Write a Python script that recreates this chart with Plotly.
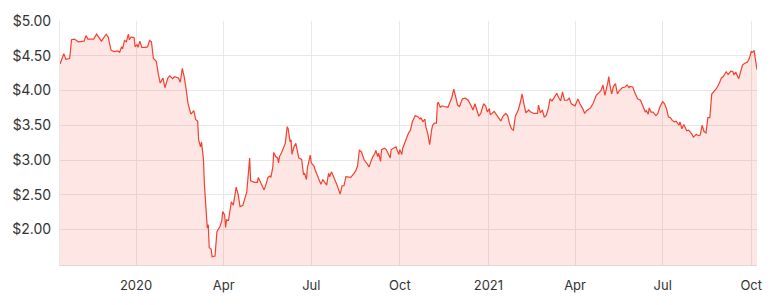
import plotly.graph_objects as go

dates = [
    "2019-10-14", "2019-10-18", "2019-10-20", "2019-10-24", "2019-10-26", "2019-10-29",
    "2019-11-02", "2019-11-08", "2019-11-10", "2019-11-12", "2019-11-18", "2019-11-21",
    "2019-11-26", "2019-12-01", "2019-12-03", "2019-12-06", "2019-12-09", "2019-12-13",
    "2019-12-15", "2019-12-17", "2019-12-18", "2019-12-20", "2019-12-22", "2019-12-24",
    "2019-12-25", "2019-12-27", "2019-12-30", "2019-12-31",
    "2020-01-02", "2020-01-03", "2020-01-05", "2020-01-07", "2020-01-11", "2020-01-13",
    "2020-01-15", "2020-01-17", "2020-01-19", "2020-01-22", "2020-01-24", "2020-01-26",
    "2020-01-29", "2020-01-31", "2020-02-03", "2020-02-05", "2020-02-08", "2020-02-10",
    "2020-02-14", "2020-02-16", "2020-02-18", "2020-02-20", "2020-02-22", "2020-02-24",
    "2020-02-27", "2020-03-01", "2020-03-03", "2020-03-05", "2020-03-06", "2020-03-08",
    "2020-03-09", "2020-03-11", "2020-03-12", "2020-03-14", "2020-03-15", "2020-03-16",
    "2020-03-17", "2020-03-19", "2020-03-20", "2020-03-23", "2020-03-25", "2020-03-28",
    "2020-03-30", "2020-03-31", "2020-04-02", "2020-04-03", "2020-04-04", "2020-04-06",
    "2020-04-09", "2020-04-11", "2020-04-12", "2020-04-14", "2020-04-16", "2020-04-18",
    "2020-04-21", "2020-04-23", "2020-04-25", "2020-04-28", "2020-04-29", "2020-05-03",
    "2020-05-06", "2020-05-07", "2020-05-10", "2020-05-13", "2020-05-15", "2020-05-17",
    "2020-05-19", "2020-05-20", "2020-05-22", "2020-05-23", "2020-05-25", "2020-05-27",
    "2020-05-28", "2020-05-29", "2020-05-31", "2020-06-03", "2020-06-04", "2020-06-06",
    "2020-06-07", "2020-06-09", "2020-06-10", "2020-06-11", "2020-06-13", "2020-06-15",
    "2020-06-17", "2020-06-18", "2020-06-21", "2020-06-23", "2020-06-24", "2020-06-26",
    "2020-06-27", "2020-06-30", "2020-07-01", "2020-07-04", "2020-07-05", "2020-07-07",
    "2020-07-09", "2020-07-11", "2020-07-13", "2020-07-15", "2020-07-17", "2020-07-19",
    "2020-07-20", "2020-07-22", "2020-07-24", "2020-07-26", "2020-07-28", "2020-07-31",
    "2020-08-02", "2020-08-04", "2020-08-06", "2020-08-09", "2020-08-11", "2020-08-14",
    "2020-08-16", "2020-08-18", "2020-08-20", "2020-08-22", "2020-08-24", "2020-08-25",
    "2020-08-28", "2020-08-30", "2020-09-01", "2020-09-03", "2020-09-05", "2020-09-06",
    "2020-09-08", "2020-09-09", "2020-09-11", "2020-09-12", "2020-09-15", "2020-09-17",
    "2020-09-18", "2020-09-21", "2020-09-22", "2020-09-25", "2020-09-27", "2020-09-28",
    "2020-09-30", "2020-10-01", "2020-10-03", "2020-10-04", "2020-10-06", "2020-10-08",
    "2020-10-10", "2020-10-12", "2020-10-14", "2020-10-16", "2020-10-17", "2020-10-20",
    "2020-10-22", "2020-10-23", "2020-10-25", "2020-10-27", "2020-10-28", "2020-10-30",
    "2020-11-01", "2020-11-03", "2020-11-04", "2020-11-06", "2020-11-08", "2020-11-09",
    "2020-11-10", "2020-11-12", "2020-11-14", "2020-11-16", "2020-11-20", "2020-11-24",
    "2020-11-26", "2020-11-28", "2020-11-30", "2020-12-02", "2020-12-05", "2020-12-08",
    "2020-12-11", "2020-12-14", "2020-12-16", "2020-12-18", "2020-12-21", "2020-12-22",
    "2020-12-24", "2020-12-27", "2020-12-29", "2020-12-31",
    "2021-01-02", "2021-01-03", "2021-01-07", "2021-01-10", "2021-01-14", "2021-01-16",
    "2021-01-19", "2021-01-21", "2021-01-23", "2021-01-25", "2021-01-27", "2021-01-29",
    "2021-02-01", "2021-02-03", "2021-02-05", "2021-02-07", "2021-02-09", "2021-02-12",
    "2021-02-14", "2021-02-17", "2021-02-21", "2021-02-22", "2021-02-24", "2021-02-26",
    "2021-02-28", "2021-03-02", "2021-03-04", "2021-03-06", "2021-03-08", "2021-03-10",
    "2021-03-13", "2021-03-15", "2021-03-17", "2021-03-19", "2021-03-21", "2021-03-24",
    "2021-03-26", "2021-03-28", "2021-04-01", "2021-04-04", "2021-04-06", "2021-04-09",
    "2021-04-11", "2021-04-13", "2021-04-17", "2021-04-20", "2021-04-23", "2021-04-26",
    "2021-04-28", "2021-04-30", "2021-05-02", "2021-05-05", "2021-05-06", "2021-05-07",
    "2021-05-09", "2021-05-11", "2021-05-13", "2021-05-15", "2021-05-17", "2021-05-20",
    "2021-05-23", "2021-05-25", "2021-05-27", "2021-05-28", "2021-05-31", "2021-06-02",
    "2021-06-05", "2021-06-08", "2021-06-10", "2021-06-13", "2021-06-14", "2021-06-16",
    "2021-06-17", "2021-06-19", "2021-06-21", "2021-06-24", "2021-06-26", "2021-06-28",
    "2021-07-01", "2021-07-03", "2021-07-05", "2021-07-07", "2021-07-09", "2021-07-11",
    "2021-07-13", "2021-07-15", "2021-07-18", "2021-07-19", "2021-07-21", "2021-07-23",
    "2021-07-26", "2021-07-28", "2021-07-31", "2021-08-02", "2021-08-05", "2021-08-07",
    "2021-08-09", "2021-08-11", "2021-08-13", "2021-08-15", "2021-08-17", "2021-08-19",
    "2021-08-21", "2021-08-24", "2021-08-26", "2021-08-29", "2021-08-31", "2021-09-02",
    "2021-09-05", "2021-09-07", "2021-09-08", "2021-09-10", "2021-09-12", "2021-09-13",
    "2021-09-15", "2021-09-18", "2021-09-20", "2021-09-22", "2021-09-24", "2021-09-27",
    "2021-09-29", "2021-10-01", "2021-10-02", "2021-10-04", "2021-10-07",
]

prices = [
    4.38, 4.53, 4.45, 4.46, 4.73, 4.74,
    4.70, 4.71, 4.79, 4.74, 4.74, 4.81,
    4.71, 4.81, 4.77, 4.58, 4.56, 4.57,
    4.55, 4.63, 4.60, 4.72, 4.70, 4.81,
    4.73, 4.77, 4.76, 4.63,
    4.66, 4.62, 4.71, 4.62, 4.62, 4.63,
    4.72, 4.70, 4.46, 4.42, 4.25, 4.11,
    4.18, 4.04, 4.18, 4.21, 4.17, 4.20,
    4.18, 4.12, 4.32, 4.20, 4.02, 3.81,
    3.66, 3.71, 3.58, 3.56, 3.29, 3.19,
    3.26, 3.01, 2.65, 2.30, 2.02, 2.07,
    1.74, 1.72, 1.61, 1.62, 1.97, 2.04,
    2.12, 2.26, 2.21, 2.03, 2.14, 2.13,
    2.40, 2.35, 2.44, 2.61, 2.51, 2.33,
    2.35, 2.44, 2.54, 3.03, 2.70, 2.68,
    2.68, 2.75, 2.65, 2.57, 2.65, 2.75,
    2.77, 2.75, 2.89, 3.11, 3.05, 3.03,
    2.96, 3.05, 3.10, 3.22, 3.24, 3.48,
    3.45, 3.26, 3.29, 3.08, 3.19, 3.24,
    3.08, 3.03, 3.01, 2.79, 2.81, 2.72,
    2.89, 3.07, 2.96, 2.91, 2.86, 2.78,
    2.70, 2.65, 2.72, 2.67, 2.64, 2.81,
    2.76, 2.83, 2.75, 2.70, 2.63, 2.51,
    2.63, 2.63, 2.76, 2.76, 2.75, 2.80,
    2.84, 2.91, 3.14, 3.12, 3.02, 3.00,
    2.95, 2.90, 2.98, 3.05, 3.09, 3.14,
    3.05, 3.10, 2.98, 3.15, 3.17, 3.15,
    3.12, 3.03, 3.15, 3.17, 3.19, 3.15,
    3.08, 3.15, 3.08, 3.17, 3.24, 3.33,
    3.39, 3.43, 3.55, 3.61, 3.64, 3.62,
    3.59, 3.61, 3.55, 3.59, 3.48, 3.38,
    3.22, 3.43, 3.50, 3.53, 3.53, 3.81,
    3.83, 3.76, 3.78, 3.77, 3.76, 3.90,
    4.02, 3.91, 3.79, 3.77, 3.88, 3.89,
    3.86, 3.78, 3.72, 3.81, 3.69, 3.63,
    3.67, 3.81, 3.78, 3.69,
    3.74, 3.65, 3.70, 3.64, 3.56, 3.63,
    3.67, 3.64, 3.52, 3.45, 3.43, 3.63,
    3.72, 3.82, 3.95, 3.80, 3.68, 3.72,
    3.69, 3.67, 3.67, 3.79, 3.68, 3.72,
    3.62, 3.64, 3.73, 3.88, 3.85, 3.89,
    3.96, 3.90, 3.85, 3.98, 3.86, 3.86,
    3.89, 3.81, 3.78, 3.88, 3.81, 3.74,
    3.67, 3.71, 3.75, 3.82, 3.93, 3.97,
    4.00, 4.08, 3.93, 4.11, 4.20, 4.10,
    3.95, 4.06, 4.10, 3.95, 4.00, 4.04,
    4.05, 4.08, 4.04, 4.06, 4.05, 3.97,
    3.88, 3.86, 3.78, 3.69, 3.71, 3.66,
    3.75, 3.69, 3.69, 3.64, 3.67, 3.76,
    3.84, 3.81, 3.74, 3.62, 3.61, 3.57,
    3.55, 3.56, 3.50, 3.55, 3.45, 3.51,
    3.42, 3.43, 3.38, 3.33, 3.37, 3.35,
    3.36, 3.50, 3.41, 3.39, 3.61, 3.61,
    3.95, 3.99, 4.03, 4.11, 4.18, 4.20,
    4.27, 4.23, 4.25, 4.28, 4.27, 4.23,
    4.26, 4.17, 4.27, 4.37, 4.39, 4.41,
    4.46, 4.56, 4.55, 4.57, 4.30,
]

x_tick_dates = ["2020-01-01", "2020-04-01", "2020-07-01", "2020-10-01",
                "2021-01-01", "2021-04-01", "2021-07-01", "2021-10-01"]
x_tick_labels = ["2020", "Apr", "Jul", "Oct", "2021", "Apr", "Jul", "Oct"]
y_tick_values = [2.0, 2.5, 3.0, 3.5, 4.0, 4.5, 5.0]
y_tick_labels = ["$2.00", "$2.50", "$3.00", "$3.50", "$4.00", "$4.50", "$5.00"]

x_range = ["2019-10-14", "2021-10-07"]
y_range = [1.49, 5.0]

fig = go.Figure(
    go.Scatter(
        x=dates,
        y=prices,
        mode="lines",
        line=dict(color="#f4402f", width=1.2),
        fill="tozeroy",
        fillcolor="rgba(244, 80, 66, 0.14)",
        hoverinfo="skip",
    )
)

font_family = "Inter, 'Open Sans', sans-serif"

fig.update_layout(
    width=774,
    height=305,
    margin=dict(l=57, r=13, t=18, b=38),
    paper_bgcolor="white",
    plot_bgcolor="white",
    showlegend=False,
    font=dict(family=font_family, size=13, color="#333333"),
)
fig.update_xaxes(
    type="date",
    range=x_range,
    tickvals=x_tick_dates,
    ticktext=x_tick_labels,
    showgrid=True,
    gridcolor="#e8e8e8",
    gridwidth=1,
    showline=True,
    linecolor="#e8d4d4",
    linewidth=1,
    ticks="",
    ticklabelstandoff=8,
    zeroline=False,
    tickfont=dict(size=13, color="#333333"),
)
fig.update_yaxes(
    range=y_range,
    tickvals=y_tick_values,
    ticktext=y_tick_labels,
    showgrid=True,
    gridcolor="#e8e8e8",
    gridwidth=1,
    showline=True,
    linecolor="#e8e8e8",
    linewidth=1,
    ticks="",
    ticklabelstandoff=5,
    zeroline=False,
    tickfont=dict(size=14, color="#333333"),
)

fig.write_html("out.html", config={"displayModeBar": False, "staticPlot": True})
